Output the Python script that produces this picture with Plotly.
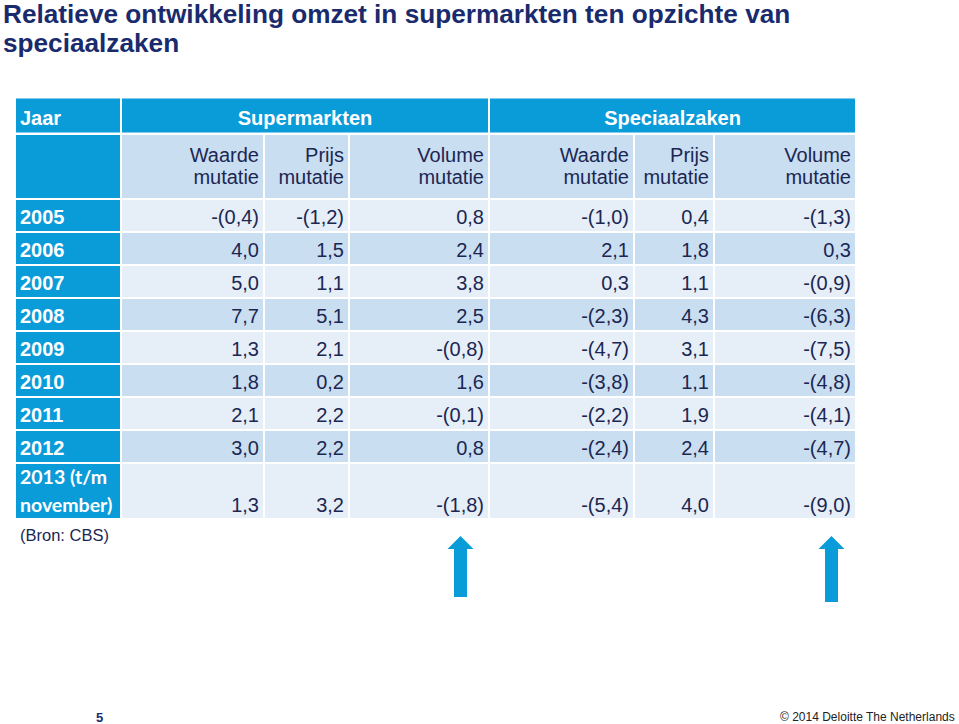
import plotly.graph_objects as go

# ---- data ----
years = ["2005", "2006", "2007", "2008", "2009", "2010", "2011", "2012", "2013 (t/m|november)"]
groups = ["Supermarkten", "Speciaalzaken"]
measures = [("Waarde", "mutatie"), ("Prijs", "mutatie"), ("Volume", "mutatie")]
first_col_label = "Jaar"
super_waarde = [-0.4, 4.0, 5.0, 7.7, 1.3, 1.8, 2.1, 3.0, 1.3]
super_prijs = [-1.2, 1.5, 1.1, 5.1, 2.1, 0.2, 2.2, 2.2, 3.2]
super_volume = [0.8, 2.4, 3.8, 2.5, -0.8, 1.6, -0.1, 0.8, -1.8]
spec_waarde = [-1.0, 2.1, 0.3, -2.3, -4.7, -3.8, -2.2, -2.4, -5.4]
spec_prijs = [0.4, 1.8, 1.1, 4.3, 3.1, 1.1, 1.9, 2.4, 4.0]
spec_volume = [-1.3, 0.3, -0.9, -6.3, -7.5, -4.8, -4.1, -4.7, -9.0]
data_cols = [super_waarde, super_prijs, super_volume, spec_waarde, spec_prijs, spec_volume]

# ---- layout / style constants (page pixel units) ----
W, H = 959, 724
BLUE = "#0A9BD9"
LIGHT = "#CADEF1"
PALE = "#E6EEF8"
NAVY = "#1B2752"
TITLE = "#1A2B6D"
FONT = "Liberation Sans, Arial, sans-serif"
FONT_LAST = "Lato, Liberation Sans, sans-serif"

TABLE_LEFT = 15
COL_W = [106, 143, 85, 140, 145, 80, 142]
TOP_ROW = (98.5, 132.5)
SUBHEAD_H = 65
ROW_H = 33
LAST_ROW_H = 56
TABLE_TOP = 134
PAD = 5
FS = 20


def fmt(v):
    s = f"{abs(v):.1f}".replace(".", ",")
    return f"-({s})" if v < 0 else s


# column edges
col_edges = [TABLE_LEFT]
for w in COL_W:
    col_edges.append(col_edges[-1] + w)
grp_edges = [col_edges[0], col_edges[1], col_edges[4], col_edges[7]]

# row edges: sub-header, data rows, last (two-line) row
n = len(years)
row_edges = [TABLE_TOP, TABLE_TOP + SUBHEAD_H]
for i in range(n):
    row_edges.append(row_edges[-1] + (LAST_ROW_H if i == n - 1 else ROW_H))

fig = go.Figure()
cscale = [[0, BLUE], [0.5, LIGHT], [1, PALE]]

# top header (merged groups)
fig.add_trace(go.Heatmap(
    x=grp_edges, y=list(TOP_ROW), z=[[0, 0, 0]],
    colorscale=cscale, zmin=0, zmax=2, showscale=False,
    xgap=2, ygap=0, hoverinfo="skip",
))

# main body fills: 0 = blue, 1 = light, 2 = pale
z = [[0] + [1] * 6]
for i in range(n):
    z.append([0] + [2 if i % 2 == 0 else 1] * 6)
fig.add_trace(go.Heatmap(
    x=col_edges, y=row_edges, z=z,
    colorscale=cscale, zmin=0, zmax=2, showscale=False,
    xgap=2, ygap=2, hoverinfo="skip",
))

# ---- texts ----
top_mid = (TOP_ROW[0] + TOP_ROW[1]) / 2 + 4
fig.add_trace(go.Scatter(
    x=[col_edges[0] + PAD], y=[top_mid], text=[f"<b>{first_col_label}</b>"],
    mode="text", textposition="middle right",
    textfont=dict(family=FONT, size=FS, color="white"), hoverinfo="skip",
))
fig.add_trace(go.Scatter(
    x=[(grp_edges[1] + grp_edges[2]) / 2, (grp_edges[2] + grp_edges[3]) / 2],
    y=[top_mid] * 2, text=[f"<b>{g}</b>" for g in groups],
    mode="text", textposition="middle center",
    textfont=dict(family=FONT, size=FS, color="white"), hoverinfo="skip",
))

# sub-header texts (two lines, right aligned)
sx, sy, st = [], [], []
for j in range(6):
    top_line, bottom_line = measures[j % 3]
    xr = col_edges[j + 2] - PAD
    sx += [xr, xr]
    sy += [row_edges[0] + 23, row_edges[0] + 44.5]
    st += [top_line, bottom_line]
fig.add_trace(go.Scatter(
    x=sx, y=sy, text=st, mode="text", textposition="middle left",
    textfont=dict(family=FONT, size=FS, color=NAVY), hoverinfo="skip",
))

# year labels and values
yx, yy, yt = [], [], []
lx, ly, lt = [], [], []
vx, vy, vt = [], [], []
for i in range(n):
    top = row_edges[i + 1]
    if i == n - 1:
        lines = years[i].split("|")
        ys = [top + 16, top + 44]
        for ln, yv in zip(lines, ys):
            lx.append(col_edges[0] + PAD); ly.append(yv); lt.append(f"<b>{ln}</b>")
        val_y = ys[-1]
    else:
        val_y = top + ROW_H / 2 + 3.5
        yx.append(col_edges[0] + PAD); yy.append(val_y); yt.append(f"<b>{years[i]}</b>")
    for j, c in enumerate(data_cols):
        vx.append(col_edges[j + 2] - PAD); vy.append(val_y); vt.append(fmt(c[i]))

fig.add_trace(go.Scatter(
    x=yx, y=yy, text=yt, mode="text", textposition="middle right",
    textfont=dict(family=FONT, size=FS, color="white"), hoverinfo="skip",
))
fig.add_trace(go.Scatter(
    x=lx, y=ly, text=lt, mode="text", textposition="middle right",
    textfont=dict(family=FONT_LAST, size=19.5, color="white"), hoverinfo="skip",
))
fig.add_trace(go.Scatter(
    x=vx, y=vy, text=vt, mode="text", textposition="middle left",
    textfont=dict(family=FONT, size=FS, color=NAVY), hoverinfo="skip",
))

# title
fig.add_annotation(x=1, y=14, xref="x", yref="y", xanchor="left", yanchor="middle",
                   text="<b>Relatieve ontwikkeling omzet in supermarkten ten opzichte van</b>",
                   showarrow=False, font=dict(family=FONT, size=26.2, color=TITLE))
fig.add_annotation(x=1, y=43, xref="x", yref="y", xanchor="left", yanchor="middle",
                   text="<b>speciaalzaken</b>",
                   showarrow=False, font=dict(family=FONT, size=26.2, color=TITLE))

# source
fig.add_annotation(x=18, y=535, xref="x", yref="y", xanchor="left", yanchor="middle",
                   text="(Bron: CBS)", showarrow=False, font=dict(family=FONT, size=16.5, color=NAVY))

# footer
fig.add_annotation(x=94, y=717, xref="x", yref="y", xanchor="left", yanchor="middle",
                   text="<b>5</b>", showarrow=False, font=dict(family=FONT, size=13, color=TITLE))
fig.add_annotation(x=957, y=717, xref="x", yref="y", xanchor="right", yanchor="middle",
                   text="© 2014 Deloitte The Netherlands", showarrow=False,
                   font=dict(family=FONT, size=12, color="#222222"))


# arrows
def arrow(cx, tip, bottom):
    pts = [(cx, tip), (cx + 13, tip + 13), (cx + 6.5, tip + 13), (cx + 6.5, bottom),
           (cx - 6.5, bottom), (cx - 6.5, tip + 13), (cx - 13, tip + 13)]
    path = "M " + " L ".join(f"{x},{y}" for x, y in pts) + " Z"
    fig.add_shape(type="path", path=path, xref="x", yref="y",
                  fillcolor=BLUE, line=dict(width=0))


arrow(460.5, 536, 597)
arrow(831.5, 536, 602)

fig.update_layout(
    width=W, height=H, margin=dict(l=0, r=0, t=0, b=0),
    paper_bgcolor="white", plot_bgcolor="white",
    xaxis=dict(visible=False, range=[0, W], domain=[0, 1], fixedrange=True),
    yaxis=dict(visible=False, range=[H, 0], domain=[0, 1], fixedrange=True),
    showlegend=False, hovermode=False,
)

fig.write_html("out.html", config={"displayModeBar": False},
               post_script="document.body.style.margin='0';")
